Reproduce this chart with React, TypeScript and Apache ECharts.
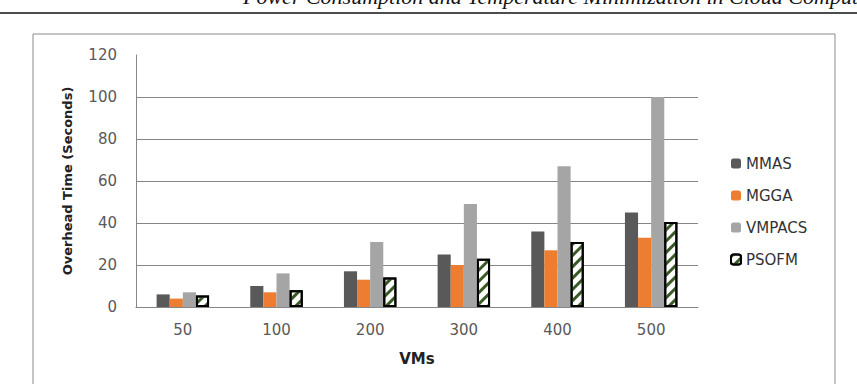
import React, { useEffect, useRef } from "react";
import * as echarts from "echarts";

const categories = ["50", "100", "200", "300", "400", "500"];
const mmas = [6, 10, 17, 25, 36, 45];
const mgga = [4, 7, 13, 20, 27, 33];
const vmpacs = [7, 16, 31, 49, 67, 100];
const psofm = [5.5, 8, 14, 23, 31, 40.5];
const seriesNames = ["MMAS", "MGGA", "VMPACS", "PSOFM"];
const headerText = "Power Consumption and Temperature Minimization in Cloud Computing";

export default function App() {
  const ref = useRef<HTMLDivElement>(null);
  useEffect(() => {
    if (!ref.current) return;
    const chart = echarts.init(ref.current, null, { renderer: "svg" });
    const font = "'DejaVu Sans', sans-serif";
    const gridColor = "#868686";
    chart.setOption({
      animation: false,
      backgroundColor: "#fff",
      graphic: [
        {
          type: "text",
          left: 243,
          top: -15,
          style: {
            text: headerText,
            font: "italic 22px 'Liberation Serif', serif",
            fill: "#111",
          },
        },
        {
          type: "line",
          shape: { x1: 0, y1: 13, x2: 857, y2: 13 },
          style: { stroke: "#111", lineWidth: 1.5 },
        },
        {
          type: "rect",
          shape: { x: 33, y: 34, width: 802, height: 400 },
          style: { fill: "none", stroke: "#8a8a8a", lineWidth: 1 },
          z: -1,
        },
      ],
      grid: { left: 136, right: 159, top: 55, bottom: 77, containLabel: false },
      legend: {
        orient: "vertical",
        left: 725,
        top: 151,
        itemWidth: 10,
        itemHeight: 10,
        itemGap: 17,
        data: seriesNames,
        textStyle: { fontFamily: font, fontSize: 15, color: "#333" },
      },
      xAxis: {
        type: "category",
        data: categories,
        name: "VMs",
        nameLocation: "middle",
        nameGap: 44,
        nameTextStyle: { fontFamily: font, fontSize: 15, fontWeight: "bold", color: "#222" },
        axisLine: { lineStyle: { color: gridColor } },
        axisTick: { show: false },
        axisLabel: { fontFamily: font, fontSize: 15, color: "#595959", margin: 15 },
      },
      yAxis: {
        type: "value",
        min: 0,
        max: 120,
        interval: 20,
        name: "Overhead Time (Seconds)",
        nameLocation: "middle",
        nameGap: 62,
        nameTextStyle: { fontFamily: font, fontSize: 13, fontWeight: "bold", color: "#222" },
        axisLine: { show: true, lineStyle: { color: gridColor } },
        axisTick: { show: false },
        axisLabel: { fontFamily: font, fontSize: 15, color: "#595959", margin: 19 },
        splitLine: {
          lineStyle: {
            color: [gridColor, gridColor, gridColor, gridColor, gridColor, gridColor, "rgba(0,0,0,0)"],
          },
        },
      },
      series: [
        {
          name: "MMAS",
          type: "bar",
          data: mmas,
          barGap: "0%",
          barCategoryGap: "44%",
          itemStyle: { color: "#595959" },
        },
        { name: "MGGA", type: "bar", data: mgga, itemStyle: { color: "#ED7D31" } },
        { name: "VMPACS", type: "bar", data: vmpacs, itemStyle: { color: "#A5A5A5" } },
        {
          name: "PSOFM",
          type: "bar",
          data: psofm,
          itemStyle: {
            color: "#ffffff",
            borderColor: "#000",
            borderWidth: 2,
            decal: {
              symbol: "rect",
              symbolSize: 1,
              color: "#3a5a25",
              dashArrayX: [1, 0],
              dashArrayY: [3, 5],
              rotation: -Math.PI / 4,
            },
          },
        },
      ],
    });
    return () => chart.dispose();
  }, []);
  return (
    <div
      ref={ref}
      style={{ position: "fixed", left: 0, top: 0, width: 857, height: 384 }}
    />
  );
}
